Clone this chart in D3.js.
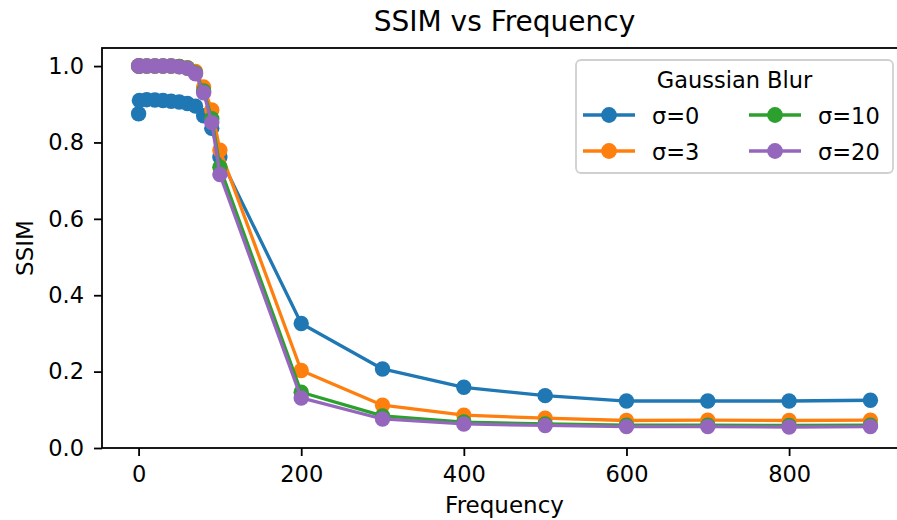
<script src="https://d3js.org/d3.v7.min.js"></script>
<html>
<body style="margin:0">
<div id="chart"></div>
<script>
// SSIM vs frequency, four blur levels
var freqs = [0, 1, 10, 20, 30, 40, 50, 60, 70, 80, 90, 100, 200, 300, 400, 500, 600, 700, 800, 900];
var sigma0  = [0.875, 0.910, 0.912, 0.911, 0.910, 0.908, 0.906, 0.902, 0.895, 0.870, 0.837, 0.762, 0.326, 0.207, 0.159, 0.137, 0.123, 0.123, 0.123, 0.125];
var sigma3  = [1.000, 1.000, 1.000, 1.000, 1.000, 1.000, 0.999, 0.996, 0.986, 0.945, 0.885, 0.780, 0.203, 0.112, 0.086, 0.078, 0.072, 0.073, 0.072, 0.073];
var sigma10 = [1.000, 1.000, 1.000, 1.000, 1.000, 1.000, 0.999, 0.995, 0.982, 0.935, 0.862, 0.735, 0.146, 0.084, 0.068, 0.063, 0.060, 0.060, 0.059, 0.060];
var sigma20 = [1.000, 1.000, 1.000, 1.000, 1.000, 1.000, 0.998, 0.994, 0.980, 0.930, 0.852, 0.716, 0.131, 0.076, 0.063, 0.059, 0.056, 0.056, 0.055, 0.056];
var seriesNames = ["σ=0", "σ=3", "σ=10", "σ=20"];
var xTicks = [0, 200, 400, 600, 800];
var yTicks = [0.0, 0.2, 0.4, 0.6, 0.8, 1.0];

var colors = ["#1f77b4", "#ff7f0e", "#2ca02c", "#9467bd"];
var allSeries = [sigma0, sigma3, sigma10, sigma20];
var font = "DejaVu Sans, sans-serif";
var fs = 22.5;

var W = 897, H = 520;
// plot box in pixels (right edge runs past the picture, as in the reference)
var box = {left: 102, right: 907, top: 48, bottom: 448};

var svg = d3.select("#chart").append("svg")
  .attr("width", W)
  .attr("height", H)
  .style("background", "white");

var x = d3.scaleLinear().domain([-45, 945]).range([box.left, box.right]);
var y = d3.scaleLinear().domain([0, 1.0473]).range([box.bottom, box.top]);

// lines and markers
var line = d3.line()
  .x(function(d, i){ return x(freqs[i]); })
  .y(function(d){ return y(d); });

allSeries.forEach(function(s, k){
  var g = svg.append("g");
  g.append("path")
    .datum(s)
    .attr("d", line)
    .attr("fill", "none")
    .attr("stroke", colors[k])
    .attr("stroke-width", 3.3)
    .attr("stroke-linejoin", "round");
  g.selectAll("circle")
    .data(s)
    .enter().append("circle")
    .attr("cx", function(d, i){ return x(freqs[i]); })
    .attr("cy", function(d){ return y(d); })
    .attr("r", 7.7)
    .attr("fill", colors[k]);
});

// axes
var xAx = d3.axisBottom(x).tickValues(xTicks).tickSize(8).tickPadding(10).tickFormat(d3.format("d"));
var yAx = d3.axisLeft(y).tickValues(yTicks).tickSize(8).tickPadding(10).tickFormat(d3.format(".1f"));

var xGroup = svg.append("g")
  .attr("transform", `translate(0,${box.bottom})`)
  .call(xAx);
var yGroup = svg.append("g")
  .attr("transform", `translate(${box.left},0)`)
  .call(yAx);

[xGroup, yGroup].forEach(function(g){
  g.select(".domain").remove();
  g.selectAll("line").attr("stroke", "black").attr("stroke-width", 1.8);
  g.selectAll("text").attr("font-family", font).attr("font-size", fs).attr("fill", "black");
});

// frame
svg.append("rect")
  .attr("x", box.left).attr("y", box.top)
  .attr("width", box.right - box.left).attr("height", box.bottom - box.top)
  .attr("fill", "none")
  .attr("stroke", "black")
  .attr("stroke-width", 1.8);

// titles
svg.append("text")
  .text("SSIM vs Frequency")
  .attr("x", (box.left + box.right) / 2).attr("y", 31)
  .attr("text-anchor", "middle")
  .attr("font-family", font).attr("font-size", 28);
svg.append("text")
  .text("Frequency")
  .attr("x", (box.left + box.right) / 2).attr("y", 513)
  .attr("text-anchor", "middle")
  .attr("font-family", font).attr("font-size", 23);
svg.append("text")
  .text("SSIM")
  .attr("transform", "translate(33,248) rotate(-90)")
  .attr("text-anchor", "middle")
  .attr("font-family", font).attr("font-size", 23);

// legend
var leg = svg.append("g");
leg.append("rect")
  .attr("x", 576).attr("y", 60)
  .attr("width", 317).attr("height", 113)
  .attr("rx", 5)
  .attr("fill", "white").attr("fill-opacity", 0.8)
  .attr("stroke", "#d0d0d0").attr("stroke-width", 1.8);
leg.append("text")
  .text("Gaussian Blur")
  .attr("x", 734.5).attr("y", 88)
  .attr("text-anchor", "middle")
  .attr("font-family", font).attr("font-size", fs);

seriesNames.forEach(function(name, k){
  var col = Math.floor(k / 2), row = k % 2;
  var lx = 583 + col * 166, ly = 115 + row * 36;
  leg.append("line")
    .attr("x1", lx).attr("x2", lx + 52)
    .attr("y1", ly).attr("y2", ly)
    .attr("stroke", colors[k]).attr("stroke-width", 3.3);
  leg.append("circle")
    .attr("cx", lx + 26).attr("cy", ly).attr("r", 7.9)
    .attr("fill", colors[k]);
  leg.append("text")
    .text(name)
    .attr("x", lx + 69).attr("y", ly + 8.5)
    .attr("font-family", font).attr("font-size", fs);
});
</script>
</body>
</html>
